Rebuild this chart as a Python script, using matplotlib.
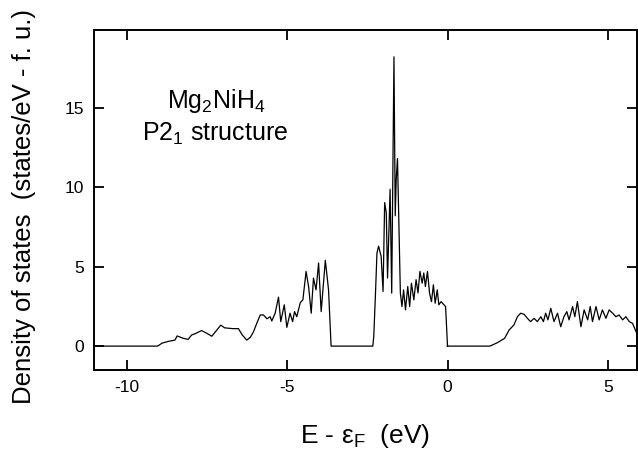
import matplotlib
matplotlib.use('Agg')
import matplotlib.pyplot as plt
import numpy as np

plt.rcParams['font.family'] = ['Liberation Sans', 'DejaVu Sans']
plt.rcParams['mathtext.fontset'] = 'custom'
plt.rcParams['mathtext.rm'] = 'Liberation Sans'
plt.rcParams['mathtext.it'] = 'Liberation Sans:italic'

# energy relative to E_F (eV)
energy = [-11.0, -9.05, -9.0, -8.9, -8.7, -8.5, -8.43, -8.25, -8.09, -7.98, -7.85,
          -7.67, -7.5, -7.35, -7.2, -7.07, -6.95, -6.84, -6.7, -6.52, -6.4, -6.26,
          -6.15, -6.05, -5.95, -5.84, -5.74, -5.63, -5.53, -5.48, -5.375, -5.27,
          -5.2, -5.09, -5.01, -4.91, -4.83, -4.77, -4.70, -4.59, -4.51, -4.41,
          -4.33, -4.25, -4.18, -4.10, -4.02, -3.94, -3.81, -3.71, -3.63,
          -2.33, -2.30, -2.25, -2.20, -2.15, -2.07, -2.01, -1.96, -1.91, -1.87,
          -1.79, -1.74, -1.67, -1.63, -1.60, -1.56, -1.52, -1.47, -1.42, -1.37,
          -1.31, -1.24, -1.18, -1.125, -1.05, -0.98, -0.92, -0.86, -0.79, -0.74,
          -0.69, -0.625, -0.56, -0.50, -0.44, -0.385, -0.32, -0.27, -0.20, -0.11,
          -0.06, -0.01,
          1.32, 1.55, 1.78, 1.92, 2.07, 2.18, 2.28, 2.39, 2.49, 2.59, 2.70, 2.80,
          2.91, 2.99, 3.06, 3.13, 3.22, 3.32, 3.43, 3.53, 3.63, 3.72, 3.79, 3.90,
          3.97, 4.05, 4.16, 4.26, 4.37, 4.45, 4.52, 4.63, 4.73, 4.83, 4.94, 5.04,
          5.15, 5.25, 5.35, 5.46, 5.56, 5.67, 5.77, 5.88, 6.0]

# density of states (states/eV - f.u.)
dos = [0.0, 0.0, 0.05, 0.19, 0.30, 0.38, 0.64, 0.50, 0.42, 0.70, 0.80,
       0.98, 0.80, 0.62, 1.00, 1.32, 1.15, 1.13, 1.10, 1.10, 0.70, 0.38,
       0.55, 0.90, 1.42, 1.96, 1.96, 1.72, 1.85, 1.58, 2.07, 3.08,
       1.54, 2.60, 1.18, 2.07, 1.54, 2.17, 1.85, 2.74, 2.91, 4.70,
       3.72, 2.07, 4.28, 3.54, 5.23, 2.17, 5.40, 3.54, 0.0,
       0.0, 0.6, 3.10, 5.86, 6.29, 5.65, 3.44, 9.03, 8.40, 4.28,
       9.87, 3.33, 18.2, 8.20, 10.5, 11.8, 8.00, 3.33, 2.49, 3.54,
       2.28, 3.75, 2.49, 3.96, 2.91, 4.18, 3.35, 4.70, 3.96, 4.60,
       3.75, 4.70, 3.33, 2.80, 3.86, 2.70, 3.54, 2.60, 2.80, 2.60,
       2.49, 0.0,
       0.0, 0.21, 0.49, 1.01, 1.33, 1.85, 2.07, 2.00, 1.75, 1.54, 1.75, 1.54,
       1.85, 1.54, 2.07, 1.65, 2.38, 1.54, 2.07, 1.22, 1.85, 2.17, 1.65, 2.49,
       1.85, 2.80, 1.22, 2.28, 1.65, 2.49, 1.54, 2.49, 1.65, 2.28, 1.75, 2.28,
       2.07, 1.85, 1.96, 1.65, 1.85, 1.54, 1.43, 0.90, 0.6]

# zero segments in the gaps
energy_full = energy[:51] + [-2.33] + energy[52:92] + [0.0] + energy[92:]
dos_full = dos[:51] + [0.0] + dos[52:92] + [0.0] + dos[92:]

fig = plt.figure(figsize=(6.38, 4.59), dpi=100)
ax = fig.add_axes([0.147, 0.194, 0.851, 0.741])

ax.plot(energy_full, dos_full, color='black', linewidth=0.9)

ax.set_xlim(-11.03, 5.9)
ax.set_ylim(-1.5, 19.9)
ax.set_xticks([-10, -5, 0, 5])
ax.set_xticklabels(['-10', '-5', '0', '5'])
ax.set_yticks([0, 5, 10, 15])

ax.tick_params(direction='in', top=True, right=True, length=7, width=1.3,
               labelsize=12.5, pad=7)
for s in ax.spines.values():
    s.set_linewidth(1.4)

ax.set_xlabel(r'E - ε$_{\rm F}$  (eV)', fontsize=19, labelpad=20)
ax.set_ylabel('Density of states  (states/eV - f. u.)', fontsize=18.5)
ax.yaxis.set_label_coords(-0.107, 0.48)

ax.text(-7.2, 15.0, r'Mg$_2$NiH$_4$', fontsize=18, ha='center', va='baseline')
ax.text(-7.25, 12.9, r'P2$_1$ structure', fontsize=18, ha='center', va='baseline')

plt.savefig('out.png', dpi=100)
